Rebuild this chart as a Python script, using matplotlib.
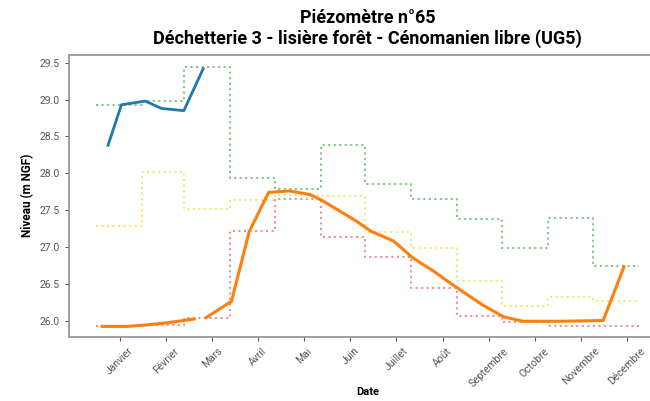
import matplotlib.pyplot as plt

plt.rcParams['font.family'] = ['Roboto', 'DejaVu Sans']

# month boundaries (day of year) for the monthly reference levels
month_edges = [0, 31, 59, 90, 120, 151, 181, 212, 243, 273, 304, 334, 365]
month_names = ['Janvier', 'Février', 'Mars', 'Avril', 'Mai', 'Juin', 'Juillet',
               'Août', 'Septembre', 'Octobre', 'Novembre', 'Décembre']
tick_days = [16, 47, 78, 109, 140, 171, 202, 233, 264, 295, 326, 357]

# monthly levels (m NGF)
green_vals = [28.93, 28.98, 29.44, 27.94, 27.78, 28.38, 27.85, 27.65, 27.38, 26.98, 27.39, 26.74]
yellow_vals = [27.29, 28.02, 27.52, 27.64, 27.71, 27.69, 27.20, 26.98, 26.54, 26.20, 26.32, 26.27]
red_vals = [25.93, 25.94, 26.03, 27.21, 27.65, 27.13, 26.86, 26.44, 26.06, 25.98, 25.92, 25.92]

# current year measurements
blue_days = [8, 17, 33, 44, 59, 72]
blue_vals = [28.38, 28.93, 28.98, 28.88, 28.85, 29.42]

# previous year measurements
orange_days = [4, 21, 34, 48, 66, 70, 74, 91, 103, 116, 130, 144, 152, 175, 185, 200,
               213, 227, 238, 246, 260, 274, 287, 314, 341, 355]
orange_vals = [25.92, 25.92, 25.94, 25.97, 26.02, float('nan'), 26.04, 26.26, 27.21, 27.74,
               27.76, 27.71, 27.63, 27.35, 27.21, 27.08, 26.85, 26.67, 26.51, 26.40,
               26.21, 26.05, 25.99, 25.99, 26.00, 26.73]

fig = plt.figure(figsize=(6.5, 4.01), dpi=100)
ax = fig.add_axes([69 / 650, 64.3 / 401, 597 / 650, 282 / 401])

ax.step(month_edges, green_vals + [green_vals[-1]], where='post', color='#2ca02c',
        linestyle=':', linewidth=1.5, alpha=0.6)
ax.step(month_edges, yellow_vals + [yellow_vals[-1]], where='post', color='#f2d21b',
        linestyle=':', linewidth=1.5, alpha=0.6)
ax.step(month_edges, red_vals + [red_vals[-1]], where='post', color='#d62728',
        linestyle=':', linewidth=1.5, alpha=0.5)

ax.plot(blue_days, blue_vals, color='#1f77b4', linewidth=2)
ax.plot(orange_days, orange_vals, color='#ff7f0e', linewidth=2.2)

ax.set_xlim(-18.25, 383.25)
ax.set_ylim(25.78, 29.61)
ax.set_yticks([26.0, 26.5, 27.0, 27.5, 28.0, 28.5, 29.0, 29.5])
ax.set_xticks(tick_days)
ax.set_xticklabels(month_names, rotation=45)
ax.tick_params(labelsize=7.5, colors='#555555', length=3)
for s in ax.spines.values():
    s.set_color('#999999')
    s.set_linewidth(1.3)

ax.set_xlabel('Date', fontsize=8, fontweight='bold')
ax.xaxis.set_label_coords(0.5, -0.18)
ax.set_ylabel('Niveau (m NGF)', fontsize=8.5, fontweight='bold')

fig.suptitle('Piézomètre n°65\nDéchetterie 3 - lisière forêt - Cénomanien libre (UG5)',
             x=367.5 / 650, y=0.978, fontsize=13, fontweight='bold', linespacing=1.15)

fig.savefig('out.png', dpi=100)
